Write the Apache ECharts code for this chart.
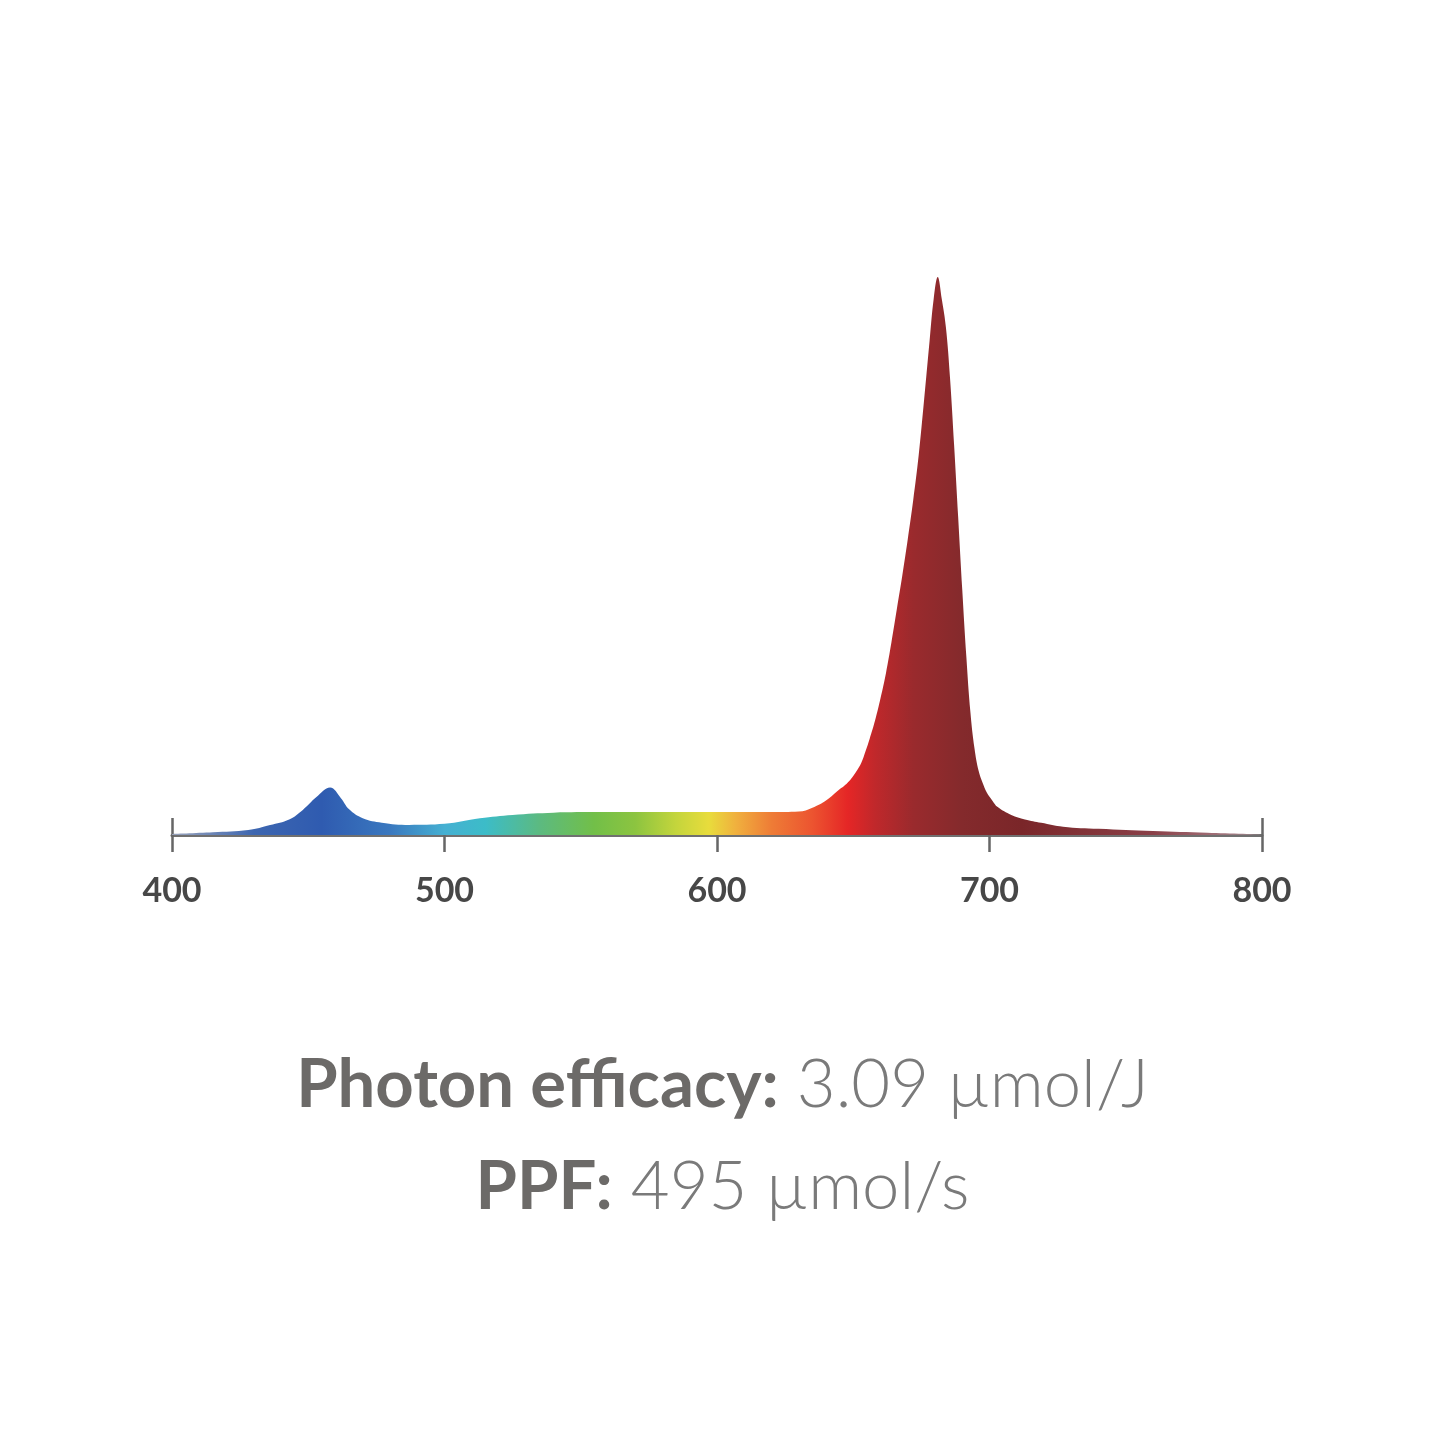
<!DOCTYPE html>
<html>
<head>
<meta charset="utf-8">
<style>
  html, body { margin: 0; padding: 0; background: #ffffff; }
  #chart { width: 1445px; height: 1445px; }
</style>
<script src="https://cdn.jsdelivr.net/npm/echarts@6/dist/echarts.min.js"></script>
</head>
<body>
<div id="chart"></div>
<script>
// Wavelength (nm) and relative spectral intensity
var wavelengths = [400, 415, 428, 436, 443, 448, 453, 458, 462, 465, 470, 477, 487, 500, 513, 525, 540, 557, 580, 600, 620, 630, 635, 640, 644, 648, 651, 653, 654.5, 656, 658, 660, 662, 664, 666, 668, 670, 672, 674, 676, 678, 679.5, 681, 682.5, 684, 685.5, 687, 688.5, 690, 691.5, 693, 694.5, 696, 697.5, 699, 701, 703, 708, 713, 719, 727, 740, 760, 780, 800];
var intensity   = [0.002, 0.005, 0.009, 0.018, 0.028, 0.045, 0.068, 0.085, 0.066, 0.046, 0.030, 0.022, 0.018, 0.020, 0.030, 0.036, 0.040, 0.041, 0.041, 0.041, 0.041, 0.042, 0.049, 0.062, 0.078, 0.094, 0.113, 0.13, 0.15, 0.172, 0.205, 0.245, 0.29, 0.345, 0.405, 0.465, 0.53, 0.60, 0.68, 0.78, 0.885, 0.96, 1.0, 0.96, 0.91, 0.82, 0.70, 0.57, 0.44, 0.32, 0.22, 0.155, 0.115, 0.093, 0.076, 0.062, 0.05, 0.036, 0.028, 0.022, 0.015, 0.011, 0.007, 0.004, 0.001];
var tickLabels = ['400', '500', '600', '700', '800'];
var line1Label = 'Photon efficacy:';
var line1Value = '3.09 µmol/J';
var line2Label = 'PPF:';
var line2Value = '495 µmol/s';

// spectrum colour stops (wavelength -> colour)
var colorStopNm = [400, 430, 455, 480, 500, 515, 535, 555, 570, 585, 597, 607, 620, 635, 648, 658, 672, 690, 712, 760, 800];
var colorStopHex = ['#9aa4bc', '#3d66b0', '#2f5bb0', '#3a78bf', '#45b0d2', '#3cbcc8', '#5cba80', '#72bf48', '#8cc440', '#c4d53c', '#e8dc3c', '#f0b03e', '#ee7c36', '#ec5430', '#e52626', '#c0282b', '#9a2a2d', '#842a2c', '#7a2629', '#8a4048', '#b09098'];

var data = wavelengths.map(function (w, i) { return [w, intensity[i]]; });
var stops = colorStopNm.map(function (w, i) {
  return { offset: (w - 400) / 400, color: colorStopHex[i] };
});

function titleRich() {
  return {
    b: { fontFamily: 'Lato', fontWeight: 'bold', fontSize: 67, color: '#6c6a68' },
    s: { fontFamily: 'Lato', fontWeight: 300, fontSize: 67, color: '#7a7a7a', width: 18 },
    n: { fontFamily: 'Lato', fontWeight: 300, fontSize: 67, color: '#7a7a7a' }
  };
}

var chart = echarts.init(document.getElementById('chart'), null, { renderer: 'canvas' });
chart.setOption({
  backgroundColor: '#ffffff',
  animation: false,
  title: [
    {
      text: '{b|' + line1Label + '}{s|}{n|' + line1Value + '}',
      left: 'center',
      top: 1047,
      textStyle: { rich: titleRich() }
    },
    {
      text: '{b|' + line2Label + '}{s|}{n|' + line2Value + '}',
      left: 'center',
      top: 1149,
      textStyle: { rich: titleRich() }
    }
  ],
  grid: { left: 172, right: 183, top: 277, bottom: 610, containLabel: false },
  xAxis: [
    {
      type: 'value', min: 400, max: 800, interval: 100,
      axisLine: { show: true, lineStyle: { color: '#707070', width: 3 } },
      axisTick: { show: true, inside: false, length: 17, lineStyle: { color: '#666666', width: 2.5 } },
      axisLabel: {
        show: true, margin: 39, fontFamily: 'Lato', fontWeight: 'bold', fontSize: 34, color: '#474747',
        formatter: function (v) { var i = tickLabels.indexOf(String(v)); return i >= 0 ? tickLabels[i] : ''; }
      },
      splitLine: { show: false }
    },
    {
      type: 'value', min: 400, max: 800, interval: 400, position: 'bottom',
      axisLine: { show: false },
      axisTick: { show: true, inside: true, length: 17, lineStyle: { color: '#666666', width: 2.5 } },
      axisLabel: { show: false },
      splitLine: { show: false }
    }
  ],
  yAxis: { type: 'value', min: 0, max: 1, show: false },
  series: [
    {
      type: 'line',
      xAxisIndex: 0,
      data: data,
      smooth: 0.4,
      symbol: 'none',
      lineStyle: { width: 0 },
      areaStyle: {
        opacity: 1,
        color: new echarts.graphic.LinearGradient(0, 0, 1, 0, stops)
      },
      z: 1
    }
  ]
});
</script>
</body>
</html>
